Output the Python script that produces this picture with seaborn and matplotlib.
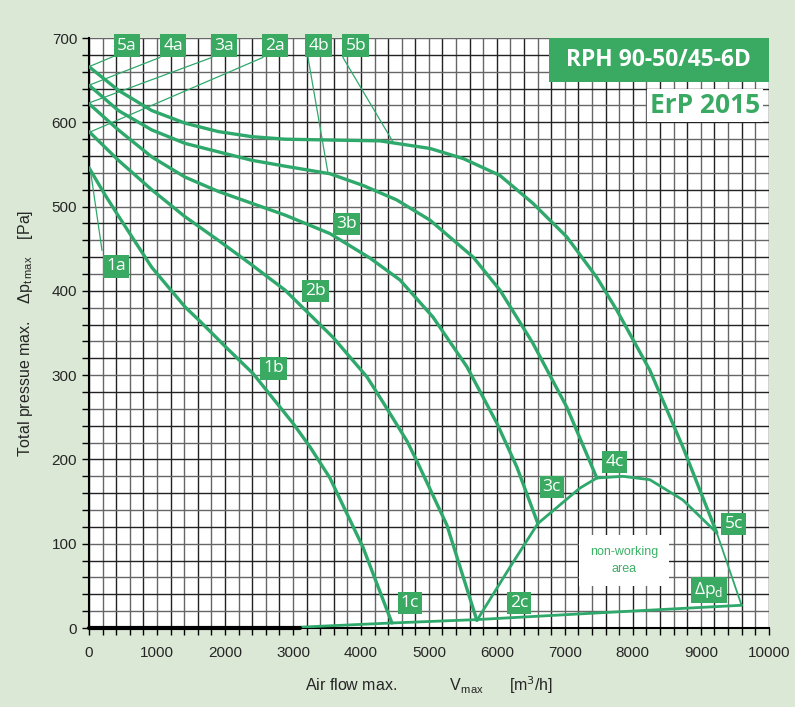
import numpy as np
import pandas as pd
import matplotlib
matplotlib.use("Agg")
import matplotlib.pyplot as plt
from matplotlib.patches import Rectangle
import seaborn as sns

# Curve data  (air flow m3/h, pressure Pa)
c1_x = [0, 235, 431, 922, 1412, 1632, 2029, 2412, 3000, 3250, 3544, 4029, 4456]
c1_y = [546, 514, 489, 428, 381, 364, 332, 302, 243, 215, 178, 96, 6]

c2_x = [0, 431, 922, 1412, 1902, 2392, 2882, 3588, 4088, 4324, 4676, 4824, 5265, 5706]
c2_y = [589, 555, 520, 488, 460, 431, 401, 345, 298, 268, 222, 198, 122, 9]

c3_x = [0, 431, 922, 1412, 1902, 2392, 2882, 3544, 4132, 4574, 5059, 5559, 6000, 6294, 6603]
c3_y = [622, 591, 559, 535, 518, 504, 490, 468, 439, 413, 369, 310, 243, 191, 124]

c4_x = [0, 431, 922, 1412, 1902, 2392, 2882, 3544, 4034, 4525, 5015, 5652, 6044, 6529, 7029, 7470]
c4_y = [644, 614, 591, 575, 565, 555, 548, 539, 525, 508, 484, 440, 401, 338, 262, 178]

c5_x = [0, 431, 922, 1412, 1902, 2392, 2882, 3544, 4279, 5015, 5505, 6044, 6529, 7029, 7470, 7765, 8250, 8735, 9235]
c5_y = [666, 638, 614, 599, 589, 583, 580, 579, 578, 569, 557, 537, 504, 464, 416, 377, 306, 215, 113]

tail_x = [9235, 9600]
tail_y = [113, 27]

dome_x = [5706, 6191, 6603, 7221, 7470, 7853, 8250, 8735, 9235]
dome_y = [9, 72, 124, 166, 178, 180, 176, 152, 113]

sys_x = [3100, 4456, 5706, 7500, 9600]
sys_y = [1, 6, 10, 18, 27]

# label boxes: text, x, y
lab_text = ["5a", "4a", "3a", "2a", "4b", "5b", "1a", "1b", "2b", "3b", "1c", "2c", "3c", "4c", "5c"]
lab_x = [559, 1235, 1985, 2735, 3382, 3926, 397, 2720, 3338, 3794, 4720, 6324, 6809, 7735, 9485]
lab_y = [691, 691, 691, 691, 691, 691, 429, 308, 400, 479, 30, 30, 167, 197, 123]

# leader lines
lead_x0 = [382, 1044, 1809, 2559, 191, 3221, 3735]
lead_y0 = [679, 677, 677, 677, 448, 677, 677]
lead_x1 = [0, 0, 0, 0, 15, 3515, 4470]
lead_y1 = [666, 644, 623, 588, 546, 540, 577]

GREEN = "#2ea86b"
BOX = "#3aaa62"
BG = "#dbe8d6"

sns.set_style("white")
plt.rcParams["font.family"] = ["Liberation Sans", "DejaVu Sans"]

fig = plt.figure(figsize=(7.95, 7.07), dpi=100, facecolor=BG)
ax = fig.add_axes([0.112, 0.1117, 0.855, 0.8345])
ax.set_facecolor("white")

ax.set_xlim(0, 10000)
ax.set_ylim(0, 700)

# grid
for gx in np.arange(0, 10001, 200):
    ax.axvline(gx, color="#222" if gx % 400 == 0 else "#666", lw=1.0, zorder=1)
for gy in np.arange(0, 701, 20):
    ax.axhline(gy, color="#222" if gy % 40 == 0 else "#666", lw=1.0, zorder=1)

curves = [(c1_x, c1_y), (c2_x, c2_y), (c3_x, c3_y), (c4_x, c4_y), (c5_x, c5_y)]
for cx, cy in curves:
    sns.lineplot(x=cx, y=cy, sort=False, estimator=None, color=GREEN, lw=2.4, ax=ax, zorder=3,
                 solid_joinstyle="round", solid_capstyle="round")

sns.lineplot(x=tail_x, y=tail_y, sort=False, estimator=None, color=GREEN, lw=1.3, ax=ax, zorder=3)
sns.lineplot(x=dome_x, y=dome_y, sort=False, estimator=None, color=GREEN, lw=2.0, ax=ax, zorder=3,
             solid_joinstyle="round")
sns.lineplot(x=sys_x, y=sys_y, sort=False, estimator=None, color=GREEN, lw=2.0, ax=ax, zorder=3)
ax.plot([0, 3100], [0, 0], color="black", lw=3, zorder=4, clip_on=False)

for x0, y0, x1, y1 in zip(lead_x0, lead_y0, lead_x1, lead_y1):
    ax.plot([x0, x1], [y0, y1], color=GREEN, lw=0.9, zorder=3)

for t, x, y in zip(lab_text, lab_x, lab_y):
    ax.text(x, y, t, color="white", fontsize=12.5, ha="center", va="center", zorder=6,
            family=["Open Sans", "DejaVu Sans"],
            bbox=dict(boxstyle="square,pad=0.18", fc=BOX, ec="none"))

ax.text(9118, 45, "Δp$_\\mathregular{d}$", color="white", fontsize=12.5, ha="center", va="center",
        zorder=6, family=["Open Sans", "DejaVu Sans"],
        bbox=dict(boxstyle="square,pad=0.18", fc=BOX, ec="none"))

ax.text(7870, 80, "non-working\narea", color="#3cb065", fontsize=9, ha="center", va="center",
        linespacing=1.5, zorder=6, family=["Liberation Sans"],
        bbox=dict(boxstyle="square,pad=0.9", fc="white", ec="none"))

# title boxes
ax.add_patch(Rectangle((6765, 648), 3235, 52, fc=BOX, ec="none", zorder=7, clip_on=False))
ax.text(8383, 674, "RPH 90-50/45-6D", color="white", fontsize=16.5, fontweight="bold",
        ha="center", va="center", zorder=8, family=["Open Sans", "DejaVu Sans"])
ax.text(9059, 620, "ErP 2015", color=BOX, fontsize=19, fontweight="bold",
        ha="center", va="center", zorder=7, family=["Open Sans", "DejaVu Sans"],
        bbox=dict(boxstyle="square,pad=0.12", fc="white", ec="none"))

# ticks
ax.set_xticks(np.arange(0, 10001, 1000))
ax.set_xticks(np.arange(0, 10001, 200), minor=True)
ax.set_yticks(np.arange(0, 701, 100))
ax.set_yticks(np.arange(0, 701, 20), minor=True)
ax.tick_params(axis="both", which="both", direction="out", length=5, width=1, color="black",
               labelsize=11, bottom=True, left=True)
ax.tick_params(axis="x", which="major", pad=8)
for s in ax.spines.values():
    s.set_visible(False)
ax.spines["left"].set_visible(True)
ax.spines["left"].set_color("black")
ax.spines["left"].set_linewidth(1.5)
ax.spines["bottom"].set_visible(True)
ax.spines["bottom"].set_color("black")
ax.spines["bottom"].set_linewidth(1.5)

ax.set_xlabel("Air flow max.            V$_\\mathregular{max}$      [m$^3$/h]", fontsize=11.5, labelpad=10)
ax.set_ylabel("Total pressue max.    Δp$_\\mathregular{t\\,max}$    [Pa]", fontsize=11.5, labelpad=12)

fig.savefig("out.png", dpi=100, facecolor=BG)
